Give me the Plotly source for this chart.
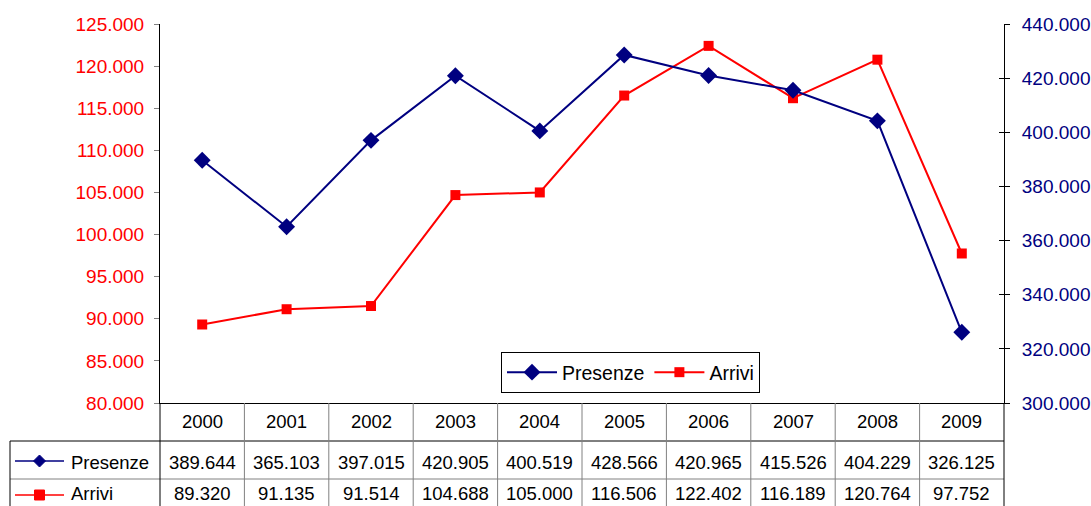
import plotly.graph_objects as go

years = ["2000", "2001", "2002", "2003", "2004", "2005", "2006", "2007", "2008", "2009"]
presenze = [389644, 365103, 397015, 420905, 400519, 428566, 420965, 415526, 404229, 326125]
arrivi = [89320, 91135, 91514, 104688, 105000, 116506, 122402, 116189, 120764, 97752]

NAVY = "#000080"
RED = "#FF0000"
FONT = "Liberation Sans, Arial, sans-serif"

W, H = 1091, 506
ML, MR, MT, MB = 160, 87, 24, 103
PW, PH = W - ML - MR, H - MT - MB


def py(pix):
    """pixel row -> paper y"""
    return (H - MB - pix) / PH


def px(pix):
    """pixel column -> paper x"""
    return (pix - ML) / PW


def fmt(v):
    return f"{v:,}".replace(",", ".")


fig = go.Figure()
fig.add_trace(go.Scatter(
    x=years, y=presenze, name="Presenze", yaxis="y2", mode="lines+markers",
    line=dict(color=NAVY, width=2),
    marker=dict(symbol="diamond", size=13, color=NAVY),
))
fig.add_trace(go.Scatter(
    x=years, y=arrivi, name="Arrivi", yaxis="y", mode="lines+markers",
    line=dict(color=RED, width=2),
    marker=dict(symbol="square", size=10, color=RED),
))
# empty trace so the inside-tick companion axis is drawn
fig.add_trace(go.Scatter(x=[], y=[], yaxis="y3", showlegend=False, hoverinfo="skip"))

shapes = []
annotations = []
GRID = "#808080"
TABLE_FONT = dict(family=FONT, size=18.5, color="black")

# horizontal table lines
shapes.append(dict(type="line", xref="paper", yref="paper",
                   x0=px(10), x1=px(1004), y0=py(441), y1=py(441),
                   line=dict(color="black", width=1)))
shapes.append(dict(type="line", xref="paper", yref="paper",
                   x0=px(10), x1=px(1004), y0=py(479), y1=py(479),
                   line=dict(color=GRID, width=1)))
# vertical table lines
n = len(years)
for k in range(1, n):
    shapes.append(dict(type="line", xref="paper", yref="paper",
                       x0=k / n, x1=k / n, y0=py(403), y1=py(520),
                       line=dict(color=GRID, width=1)))
for xv in (160, 1004):
    shapes.append(dict(type="line", xref="paper", yref="paper",
                       x0=px(xv), x1=px(xv), y0=py(403), y1=py(520),
                       line=dict(color="black", width=1)))
shapes.append(dict(type="line", xref="paper", yref="paper",
                   x0=px(10), x1=px(10), y0=py(441), y1=py(520),
                   line=dict(color="black", width=1)))

# series keys in the table label column
for yc, col, sym in ((461, NAVY, "diamond"), (495, RED, "square")):
    shapes.append(dict(type="line", xref="paper", yref="paper",
                       x0=px(15), x1=px(64), y0=py(yc), y1=py(yc),
                       line=dict(color=col, width=1.6)))
    cx = 39.5
    if sym == "diamond":
        path = (f"M {px(cx - 6)} {py(yc)} L {px(cx)} {py(yc - 6)} "
                f"L {px(cx + 6)} {py(yc)} L {px(cx)} {py(yc + 6)} Z")
    else:
        path = (f"M {px(cx - 5)} {py(yc - 5)} L {px(cx + 5)} {py(yc - 5)} "
                f"L {px(cx + 5)} {py(yc + 5)} L {px(cx - 5)} {py(yc + 5)} Z")
    shapes.append(dict(type="path", xref="paper", yref="paper", path=path,
                       fillcolor=col, line=dict(color=col, width=1)))

annotations.append(dict(text="Presenze", xref="paper", yref="paper", x=px(69), y=py(462),
                        xanchor="left", yanchor="middle", showarrow=False, font=TABLE_FONT))
annotations.append(dict(text="Arrivi", xref="paper", yref="paper", x=px(69), y=py(493),
                        xanchor="left", yanchor="middle", showarrow=False, font=TABLE_FONT))

for i, (yr, p, a) in enumerate(zip(years, presenze, arrivi)):
    for txt, yc in ((yr, 421), (fmt(p), 462), (fmt(a), 493)):
        annotations.append(dict(text=txt, xref="x", yref="paper", x=i, y=py(yc),
                                xanchor="center", yanchor="middle", showarrow=False,
                                font=TABLE_FONT))

fig.update_layout(
    width=W, height=H,
    margin=dict(l=ML, r=MR, t=MT, b=MB, pad=0, autoexpand=False),
    paper_bgcolor="white", plot_bgcolor="white",
    separators=",.",
    font=dict(family=FONT, size=18, color="black"),
    showlegend=True,
    legend=dict(
        orientation="h", x=px(501), y=py(352), xanchor="left", yanchor="top",
        bordercolor="black", borderwidth=1, bgcolor="white",
        font=dict(family=FONT, size=19.5, color="black"),
        itemwidth=50, tracegroupgap=0,
    ),
    xaxis=dict(
        type="category", range=[-0.5, 9.5], showticklabels=False, ticks="",
        showline=True, linecolor="black", linewidth=1, showgrid=False, zeroline=False,
    ),
    yaxis=dict(
        range=[80000, 125000], dtick=5000, tickformat=",.0f",
        tickfont=dict(family=FONT, size=19, color=RED),
        ticks="outside", ticklen=5, tickcolor="#808080", ticklabelstandoff=6,
        showline=True, linecolor="black", linewidth=1, showgrid=False, zeroline=False,
    ),
    yaxis2=dict(
        range=[300000, 440000], dtick=20000, tickformat=",.0f", overlaying="y", side="right",
        tickfont=dict(family=FONT, size=19, color=NAVY),
        ticks="outside", ticklen=5, tickcolor="black", ticklabelstandoff=8,
        showline=True, linecolor="black", linewidth=1, showgrid=False, zeroline=False,
    ),
    yaxis3=dict(
        range=[300000, 440000], dtick=20000, overlaying="y", side="right",
        showticklabels=False, ticks="inside", ticklen=5, tickcolor="black",
        showline=False, showgrid=False, zeroline=False,
    ),
    shapes=shapes,
    annotations=annotations,
)

fig.write_html("out.html")
